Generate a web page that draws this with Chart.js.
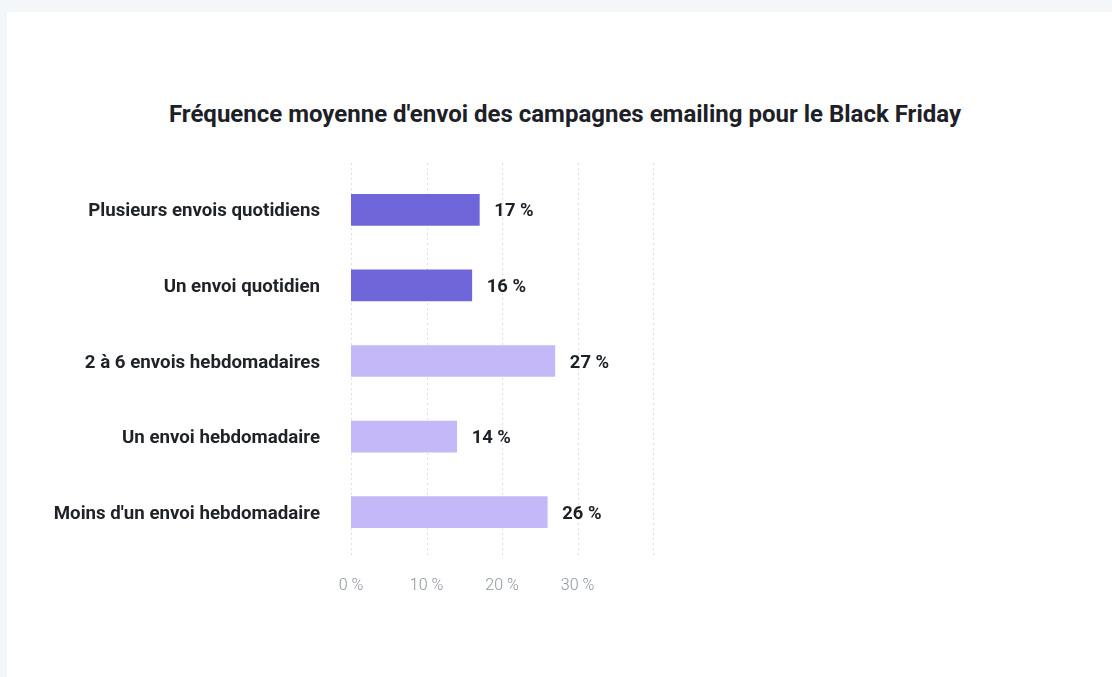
<!DOCTYPE html>
<html lang="fr">
<head>
<meta charset="utf-8">
<title>Fréquence moyenne d'envoi des campagnes emailing pour le Black Friday</title>
<script src="https://cdn.jsdelivr.net/npm/chart.js@4.4.1/dist/chart.umd.min.js"></script>
<style>
  html, body { margin: 0; padding: 0; }
  body { width: 1112px; height: 677px; background: #f3f7fa; position: relative; overflow: hidden; font-family: Roboto, "Noto Sans", sans-serif; }
  .card { position: absolute; left: 7px; top: 12px; right: 0; bottom: 0; background: #fff; }
  .title { position: absolute; left: 0; width: 1130px; top: 100px; text-align: center; font: 700 24px Roboto, sans-serif; color: #1d2127; }
  #wrap { position: absolute; left: 0; top: 0; width: 1112px; height: 677px; }
</style>
</head>
<body>
<div class="card"></div>
<div class="title">Fréquence moyenne d'envoi des campagnes emailing pour le Black Friday</div>
<div id="wrap"><canvas id="freq"></canvas></div>
<script>
// envoi frequency shares, in %
var categories = [
  "Plusieurs envois quotidiens",
  "Un envoi quotidien",
  "2 à 6 envois hebdomadaires",
  "Un envoi hebdomadaire",
  "Moins d'un envoi hebdomadaire"
];
var shares = [17, 16, 27, 14, 26];
var xTicks = [0, 10, 20, 30, 40];
var xTickLabels = ["0 %", "10 %", "20 %", "30 %", ""];

var daily = "#6f67d9";
var weekly = "#c5b8f8";

// dotted vertical grid, a bit taller than the plot area
var dottedGrid = {
  id: 'dottedGrid',
  beforeDatasetsDraw: function(chart) {
    var ctx = chart.ctx, area = chart.chartArea, x = chart.scales.x;
    ctx.save();
    ctx.strokeStyle = '#dcdfe3';
    ctx.lineWidth = 1;
    ctx.setLineDash([2, 3]);
    xTicks.forEach(function(t) {
      var px = Math.round(x.getPixelForValue(t)) + 0.5;
      ctx.beginPath();
      ctx.moveTo(px, area.top - 9);
      ctx.lineTo(px, area.bottom + 7);
      ctx.stroke();
    });
    ctx.restore();
  }
};

// "17 %" style labels after each bar
var valueLabels = {
  id: 'valueLabels',
  afterDatasetsDraw: function(chart) {
    var ctx = chart.ctx;
    var meta = chart.getDatasetMeta(0);
    ctx.save();
    ctx.font = '700 18.4px Roboto, sans-serif';
    ctx.fillStyle = '#1c2128';
    ctx.textAlign = 'left';
    ctx.textBaseline = 'middle';
    meta.data.forEach(function(bar, i) {
      ctx.fillText(shares[i] + ' %', bar.x + 15, bar.y + 2);
    });
    ctx.restore();
  }
};

new Chart(document.getElementById('freq'), {
  type: 'bar',
  data: {
    labels: categories,
    datasets: [{
      data: shares,
      backgroundColor: [daily, daily, weekly, weekly, weekly],
      barThickness: 31,
      borderWidth: 0
    }]
  },
  options: {
    indexAxis: 'y',
    responsive: true,
    maintainAspectRatio: false,
    animation: false,
    layout: { padding: { top: 172, right: 459, bottom: 80, left: 0 } },
    plugins: {
      legend: { display: false },
      title: { display: false },
      tooltip: { enabled: false }
    },
    scales: {
      x: {
        min: 0,
        max: 40,
        afterBuildTicks: function(scale) {
          scale.ticks = xTicks.map(function(v) { return { value: v }; });
        },
        afterFit: function(scale) { scale.height = 47; },
        grid: { display: false, drawTicks: false },
        border: { display: false },
        ticks: {
          padding: 26,
          color: '#8c959f',
          font: { family: 'Roboto', size: 16, weight: 300 },
          callback: function(v) { return xTickLabels[xTicks.indexOf(v)]; }
        }
      },
      y: {
        afterFit: function(scale) { scale.width = 351; },
        grid: { display: false, drawTicks: false },
        border: { display: false },
        ticks: {
          padding: 31,
          labelOffset: 2,
          color: '#1f2328',
          font: { family: 'Roboto', size: 18.7, weight: 700 }
        }
      }
    }
  },
  plugins: [dottedGrid, valueLabels]
});
</script>
</body>
</html>
